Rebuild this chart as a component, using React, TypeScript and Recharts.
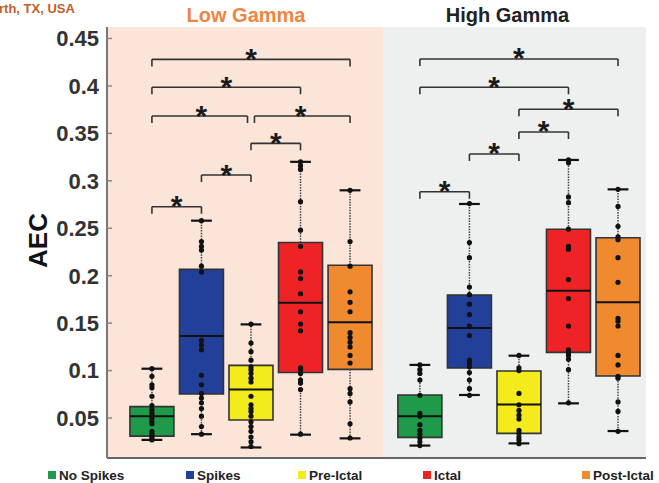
import React from 'react';
import { ComposedChart, XAxis, YAxis, Scatter, ReferenceArea, ReferenceLine, Legend } from 'recharts';

const FONT = '"Liberation Sans", Arial, Helvetica, sans-serif';

const groupNames = ['No Spikes', 'Spikes', 'Pre-Ictal', 'Ictal', 'Post-Ictal'];
const groupColors = ['#1F9A4B', '#22409A', '#F3EB1C', '#EE2326', '#EF8A2F'];
const yTicks = [0.05, 0.1, 0.15, 0.2, 0.25, 0.3, 0.35, 0.4, 0.45];

// Low Gamma box statistics (per group)
const lowMin = [0.027, 0.033, 0.019, 0.0325, 0.0286];
const lowQ1 = [0.031, 0.0753, 0.048, 0.098, 0.1013];
const lowMedian = [0.052, 0.1364, 0.08, 0.1716, 0.151];
const lowQ3 = [0.062, 0.2067, 0.1055, 0.235, 0.211];
const lowMax = [0.102, 0.258, 0.1487, 0.32, 0.29];

// High Gamma box statistics (per group)
const highMin = [0.021, 0.0743, 0.0233, 0.0655, 0.0363];
const highQ1 = [0.0296, 0.1027, 0.0339, 0.1192, 0.0943];
const highMedian = [0.052, 0.145, 0.0644, 0.1842, 0.172];
const highQ3 = [0.0743, 0.1797, 0.0996, 0.249, 0.24];
const highMax = [0.106, 0.2756, 0.1157, 0.322, 0.291];

// individual observations
const lowNoSpikes = [0.102, 0.094, 0.085, 0.082, 0.073, 0.063, 0.059, 0.056, 0.053, 0.05, 0.047, 0.044, 0.036, 0.033, 0.031, 0.029, 0.027];
const lowSpikes = [0.258, 0.236, 0.231, 0.227, 0.21, 0.204, 0.132, 0.127, 0.122, 0.095, 0.085, 0.076, 0.071, 0.066, 0.06, 0.052, 0.041, 0.033];
const lowPreIctal = [0.149, 0.129, 0.12, 0.111, 0.104, 0.101, 0.097, 0.092, 0.088, 0.073, 0.064, 0.06, 0.057, 0.052, 0.046, 0.041, 0.036, 0.03, 0.025, 0.02];
const lowIctal = [0.32, 0.316, 0.312, 0.278, 0.248, 0.231, 0.204, 0.197, 0.181, 0.162, 0.149, 0.142, 0.103, 0.101, 0.097, 0.09, 0.087, 0.08, 0.033];
const lowPostIctal = [0.29, 0.236, 0.21, 0.183, 0.172, 0.162, 0.14, 0.135, 0.13, 0.125, 0.116, 0.108, 0.081, 0.076, 0.067, 0.044, 0.029];
const highNoSpikes = [0.106, 0.101, 0.097, 0.09, 0.074, 0.055, 0.052, 0.043, 0.037, 0.033, 0.029, 0.025, 0.021];
const highSpikes = [0.276, 0.235, 0.219, 0.188, 0.18, 0.17, 0.159, 0.147, 0.137, 0.111, 0.108, 0.104, 0.098, 0.09, 0.081, 0.074];
const highPreIctal = [0.116, 0.103, 0.1, 0.076, 0.064, 0.058, 0.053, 0.049, 0.037, 0.034, 0.03, 0.027, 0.023];
const highIctal = [0.322, 0.319, 0.283, 0.277, 0.249, 0.231, 0.228, 0.196, 0.176, 0.147, 0.122, 0.119, 0.116, 0.112, 0.101, 0.066];
const highPostIctal = [0.291, 0.273, 0.252, 0.241, 0.238, 0.219, 0.193, 0.155, 0.152, 0.147, 0.116, 0.106, 0.094, 0.092, 0.067, 0.057, 0.036];

// significance brackets: [fromGroup, toGroup, level]
const lowBrackets = [[1, 5, 0.428], [1, 4, 0.3986], [1, 3, 0.3683], [3, 5, 0.3683], [3, 4, 0.3395], [2, 3, 0.3061], [1, 2, 0.2727]];
const highBrackets = [[1, 5, 0.4284], [1, 4, 0.3986], [3, 5, 0.3754], [3, 4, 0.3515], [2, 3, 0.3283], [1, 2, 0.2885]];

// ---- layout ----
const Y_DOMAIN: [number, number] = [0.0079, 0.4621];
const X_DOMAIN: [number, number] = [0.093, 10.975];
const PANEL_SPLIT = 5.665;
const HIGH_SHIFT = 5.41;
const BOX_HALF = 0.444;
const CAP_HALF = 0.21;
const LEG = 0.0074;

type Panel = {
  offset: number;
  min: number[]; q1: number[]; med: number[]; q3: number[]; max: number[];
  pts: number[][];
  brackets: number[][];
};

const panels: Panel[] = [
  { offset: 0, min: lowMin, q1: lowQ1, med: lowMedian, q3: lowQ3, max: lowMax,
    pts: [lowNoSpikes, lowSpikes, lowPreIctal, lowIctal, lowPostIctal], brackets: lowBrackets },
  { offset: HIGH_SHIFT, min: highMin, q1: highQ1, med: highMedian, q3: highQ3, max: highMax,
    pts: [highNoSpikes, highSpikes, highPreIctal, highIctal, highPostIctal], brackets: highBrackets },
];

const pointData: { x: number; y: number }[] = [];
panels.forEach((p) => p.pts.forEach((arr, g) => arr.forEach((v) => pointData.push({ x: p.offset + g + 1, y: v }))));

const starData: { x: number; y: number }[] = [];
panels.forEach((p) => p.brackets.forEach(([a, b, lvl]) => starData.push({ x: p.offset + (a + b) / 2, y: lvl })));

const Dot = (props: any) => <circle cx={props.cx} cy={props.cy} r={2.6} fill="#111" />;
const Star = (props: any) => (
  <text x={props.cx} y={props.cy + 9.5} textAnchor="middle" fontSize={30} fontWeight="bold" fontFamily={FONT} fill="#1a1a1a">*</text>
);

const LegendContent = () => {
  const xs = [48, 186, 298, 423, 582];
  return (
    <div style={{ position: 'relative', width: 659, height: 24, fontFamily: FONT }}>
      {groupNames.map((n, i) => (
        <React.Fragment key={n}>
          <div style={{ position: 'absolute', left: xs[i], top: 12, width: 8, height: 8, background: groupColors[i] }} />
          <div style={{ position: 'absolute', left: xs[i] + 11, top: 10, fontSize: 13.5, lineHeight: '13.5px', fontWeight: 'bold', color: '#222', whiteSpace: 'nowrap' }}>{n}</div>
        </React.Fragment>
      ))}
    </div>
  );
};

const titleContent = (text: string, color: string, dx: number) => (props: any) => {
  const vb = props.viewBox || {};
  return (
    <text x={vb.x + vb.width / 2 + dx} y={vb.y - 5} textAnchor="middle" fontSize={20} fontWeight="bold" fontFamily={FONT} fill={color}>{text}</text>
  );
};

const yLabelContent = (props: any) => {
  const vb = props.viewBox || { x: 0, y: 27, width: 107, height: 431 };
  const cx = 47;
  const cy = vb.y + vb.height / 2 - 2;
  return (
    <text x={cx} y={cy} transform={`rotate(-90 ${cx} ${cy})`} textAnchor="middle" fontSize={26} fontWeight="bold" fontFamily={FONT} fill="#111">AEC</text>
  );
};

export default function App() {
  const elems: React.ReactNode[] = [];
  panels.forEach((p, pi) => {
    for (let g = 0; g < 5; g++) {
      const x = p.offset + g + 1;
      const k = `${pi}-${g}`;
      elems.push(<ReferenceLine key={`wu${k}`} segment={[{ x, y: p.q3[g] }, { x, y: p.max[g] }]} stroke="#444" strokeWidth={1.5} strokeDasharray="1.5 1.2" />);
      elems.push(<ReferenceLine key={`wl${k}`} segment={[{ x, y: p.min[g] }, { x, y: p.q1[g] }]} stroke="#444" strokeWidth={1.5} strokeDasharray="1.5 1.2" />);
      elems.push(<ReferenceLine key={`cu${k}`} segment={[{ x: x - CAP_HALF, y: p.max[g] }, { x: x + CAP_HALF, y: p.max[g] }]} stroke="#111" strokeWidth={2.2} />);
      elems.push(<ReferenceLine key={`cl${k}`} segment={[{ x: x - CAP_HALF, y: p.min[g] }, { x: x + CAP_HALF, y: p.min[g] }]} stroke="#111" strokeWidth={2.2} />);
      elems.push(<ReferenceArea key={`b${k}`} x1={x - BOX_HALF} x2={x + BOX_HALF} y1={p.q1[g]} y2={p.q3[g]} fill={groupColors[g]} fillOpacity={1} stroke="#333" strokeWidth={1.6} />);
      elems.push(<ReferenceLine key={`m${k}`} segment={[{ x: x - BOX_HALF, y: p.med[g] }, { x: x + BOX_HALF, y: p.med[g] }]} stroke="#111" strokeWidth={2} />);
    }
  });

  const bracketElems: React.ReactNode[] = [];
  panels.forEach((p, pi) => {
    p.brackets.forEach(([a, b, lvl], bi) => {
      // shorten ends that share a group with another bracket at the same level
      const shareA = p.brackets.some(([a2, b2, l2], j) => j !== bi && l2 === lvl && b2 === a);
      const shareB = p.brackets.some(([a2, b2, l2], j) => j !== bi && l2 === lvl && a2 === b);
      const x1 = p.offset + a + (shareA ? 0.07 : 0);
      const x2 = p.offset + b - (shareB ? 0.07 : 0);
      const k = `${pi}-${bi}`;
      bracketElems.push(<ReferenceLine key={`bh${k}`} segment={[{ x: x1, y: lvl }, { x: x2, y: lvl }]} stroke="#333" strokeWidth={1.6} />);
      bracketElems.push(<ReferenceLine key={`bl${k}`} segment={[{ x: x1, y: lvl }, { x: x1, y: lvl - LEG }]} stroke="#333" strokeWidth={1.6} />);
      bracketElems.push(<ReferenceLine key={`br${k}`} segment={[{ x: x2, y: lvl }, { x: x2, y: lvl - LEG }]} stroke="#333" strokeWidth={1.6} />);
    });
  });

  return (
    <div style={{ position: 'absolute', left: 0, top: 0, width: 659, height: 483, background: '#fff', fontFamily: FONT }}>
      <div style={{ position: 'absolute', left: -1, top: 1.5, fontSize: 13, lineHeight: '13px', fontWeight: 'bold', color: '#C0602C', whiteSpace: 'nowrap' }}>rth, TX, USA</div>
      <ComposedChart width={659} height={483} margin={{ top: 27, right: 13, bottom: 0, left: 0 }} data={pointData}>
        <XAxis dataKey="x" type="number" domain={X_DOMAIN} allowDataOverflow tick={false} tickLine={false} height={1} axisLine={{ stroke: '#666', strokeWidth: 2 }} />
        <YAxis type="number" domain={Y_DOMAIN} allowDataOverflow ticks={yTicks} width={107} tickSize={-5} tickMargin={13}
          tickLine={{ stroke: '#888', strokeWidth: 1.5 }} axisLine={{ stroke: '#777', strokeWidth: 2 }}
          tick={{ fill: '#333', fontSize: 22, fontWeight: 'bold', fontFamily: FONT }}
          tickFormatter={(v: number) => String(v)}
          label={{ content: yLabelContent } as any} />
        <ReferenceArea x1={X_DOMAIN[0]} x2={PANEL_SPLIT} y1={Y_DOMAIN[0]} y2={Y_DOMAIN[1]} fill="#FBE5D8" fillOpacity={1} stroke="none"
          label={{ content: titleContent('Low Gamma', '#EF8540', 1) } as any} />
        <ReferenceArea x1={PANEL_SPLIT} x2={X_DOMAIN[1]} y1={Y_DOMAIN[0]} y2={Y_DOMAIN[1]} fill="#EEEFEF" fillOpacity={1} stroke="none"
          label={{ content: titleContent('High Gamma', '#222', -7) } as any} />
        {elems}
        {bracketElems}
        <Scatter data={pointData} dataKey="y" shape={Dot} isAnimationActive={false} legendType="none" />
        <Scatter data={starData} dataKey="y" shape={Star} isAnimationActive={false} legendType="none" />
        <Legend verticalAlign="bottom" content={LegendContent} wrapperStyle={{ margin: 0, padding: 0 }} />
      </ComposedChart>
    </div>
  );
}
